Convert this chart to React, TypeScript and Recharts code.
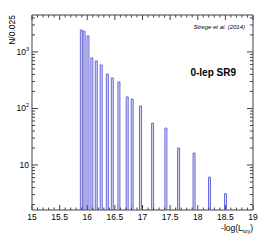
import { Bar, ComposedChart, XAxis, YAxis } from "recharts";

// histogram bins (bin centre, entries per 0.025)
const binCenters = [
  15.9, 15.95, 16.02, 16.09, 16.17, 16.26, 16.37, 16.46, 16.58,
  16.73, 16.82, 16.97, 17.19, 17.43, 17.66, 17.94, 18.22, 18.51,
];
const counts = [
  2450, 2320, 1920, 783, 693, 589, 408, 347, 295,
  160, 147, 111, 55, 45, 20, 16.3, 6.1, 3.1,
];

const xMajorTicks = [15, 15.5, 16, 16.5, 17, 17.5, 18, 18.5, 19];
const yLabelTicks = [10, 100, 1000];
const yLabelExps = [null, "2", "3"];

const WIDTH = 266;
const HEIGHT = 241;
const X_DOMAIN: [number, number] = [15, 19];
const Y_DOMAIN: [number, number] = [1.6, 4500];
const FONT = "'Liberation Sans', Arial, Helvetica, sans-serif";
const FRAME = "#808080";
const TICK = "#444";
const BAR_FILL = "#dadaf5";
const BAR_STROKE = "#6a6ad8";

const chartData = binCenters.map((x, i) => ({ x, n: counts[i] }));

// minor ticks every 0.1 on x
const xTicks: number[] = [];
for (let i = 0; i <= 40; i++) xTicks.push(Math.round((15 + i * 0.1) * 10) / 10);

// log ticks 2..9 per decade on y
const yTicks: number[] = [];
for (const d of [1, 10, 100, 1000]) {
  for (let m = 1; m <= 9; m++) {
    const v = m * d;
    if (v >= Y_DOMAIN[0] && v <= Y_DOMAIN[1]) yTicks.push(v);
  }
}

const isMajorX = (v: number) => xMajorTicks.some((t) => Math.abs(t - v) < 1e-6);
const isMajorY = (v: number) => yLabelTicks.includes(v) || v === 1;

function BottomTick({ x, y, payload }: any) {
  const major = isMajorX(payload.value);
  return (
    <g>
      <line x1={x} x2={x} y1={y} y2={y - (major ? 5 : 2.5)} stroke={TICK} />
      {major && (
        <text x={x} y={y + 10} textAnchor="middle" fontSize={8.5} fontFamily={FONT} fill="#000">
          {payload.value}
        </text>
      )}
    </g>
  );
}

function TopTick({ x, y, payload }: any) {
  const major = isMajorX(payload.value);
  return <line x1={x} x2={x} y1={y} y2={y + (major ? 5 : 2.5)} stroke={TICK} />;
}

function LeftTick({ x, y, payload }: any) {
  const major = isMajorY(payload.value);
  const idx = yLabelTicks.indexOf(payload.value);
  return (
    <g>
      <line x1={x} x2={x + (major ? 6 : 3)} y1={y} y2={y} stroke={TICK} />
      {idx >= 0 && (
        <text
          x={x - 3}
          y={y + 3}
          textAnchor="end"
          fontSize={8.5}
          fontFamily={FONT}
          fill="#000"
        >
          10
          {yLabelExps[idx] && (
            <tspan fontSize={5.5} dy={-4}>
              {yLabelExps[idx]}
            </tspan>
          )}
        </text>
      )}
    </g>
  );
}

function RightTick({ x, y, payload }: any) {
  const major = isMajorY(payload.value);
  return <line x1={x} x2={x - (major ? 6 : 3)} y1={y} y2={y} stroke={TICK} />;
}

export default function App() {
  return (
    <div style={{ position: "absolute", left: 0, top: 0, width: WIDTH, height: HEIGHT, background: "#fff" }}>
      <ComposedChart
        width={WIDTH}
        height={HEIGHT}
        data={chartData}
        margin={{ top: 14, right: 12, bottom: 30, left: 31 }}
      >
        <XAxis
          dataKey="x"
          type="number"
          domain={X_DOMAIN}
          ticks={xTicks}
          interval={0}
          height={1}
          tickSize={0}
          tickMargin={0}
          tick={<BottomTick />}
          axisLine={{ stroke: FRAME, strokeWidth: 1.5 }}
          allowDataOverflow
        />
        <XAxis
          xAxisId="top"
          orientation="top"
          dataKey="x"
          type="number"
          domain={X_DOMAIN}
          ticks={xTicks}
          interval={0}
          height={1}
          tickSize={0}
          tickMargin={0}
          tick={<TopTick />}
          axisLine={{ stroke: FRAME, strokeWidth: 1.5 }}
          allowDataOverflow
        />
        <YAxis
          type="number"
          scale="log"
          domain={Y_DOMAIN}
          ticks={yTicks}
          interval={0}
          width={1}
          tickSize={0}
          tickMargin={0}
          tick={<LeftTick />}
          axisLine={{ stroke: FRAME, strokeWidth: 1.5 }}
          allowDataOverflow
        />
        <YAxis
          yAxisId="right"
          orientation="right"
          type="number"
          scale="log"
          domain={Y_DOMAIN}
          ticks={yTicks}
          interval={0}
          width={1}
          tickSize={0}
          tickMargin={0}
          tick={<RightTick />}
          axisLine={{ stroke: FRAME, strokeWidth: 1.5 }}
          allowDataOverflow
        />
        <Bar
          dataKey="n"
          barSize={2}
          fill={BAR_FILL}
          stroke={BAR_STROKE}
          strokeWidth={1}
          isAnimationActive={false}
        />
      </ComposedChart>
      <svg
        width={WIDTH}
        height={HEIGHT}
        style={{ position: "absolute", left: 0, top: 0, pointerEvents: "none" }}
        fontFamily={FONT}
      >
        <text transform="translate(15,15) rotate(-90)" textAnchor="end" fontSize={8.5} fill="#000">
          N/0.025
        </text>
        <text x={245} y={29} textAnchor="end" fontSize={6} fontStyle="italic" fill="#000">
          Strege et al. (2014)
        </text>
        <text x={236} y={76} textAnchor="end" fontSize={10} fontWeight="bold" fill="#000">
          0-lep SR9
        </text>
        <text x={253} y={231} textAnchor="end" fontSize={8.5} fill="#000">
          -log(L
          <tspan fontSize={5.5} dy={2}>
            toy
          </tspan>
          <tspan dy={-2}>)</tspan>
        </text>
      </svg>
    </div>
  );
}
